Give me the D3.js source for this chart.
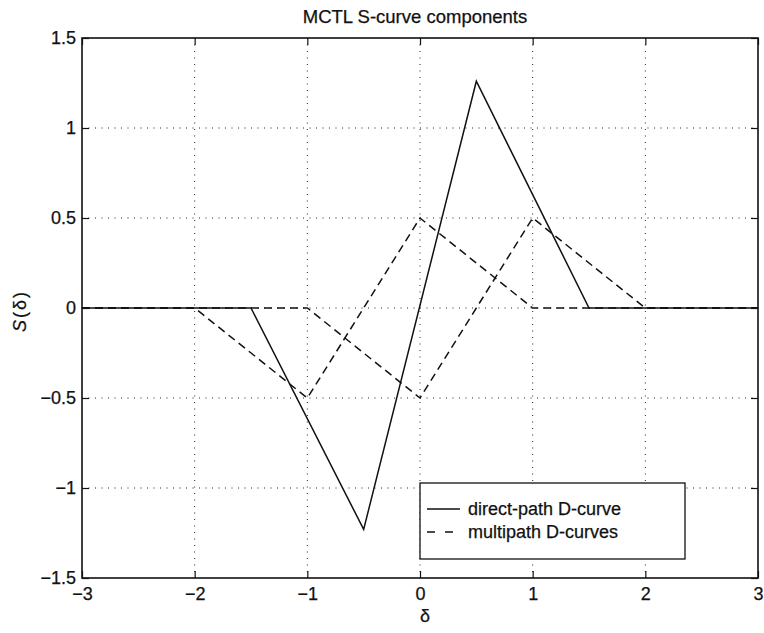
<!DOCTYPE html>
<html>
<head>
<meta charset="utf-8">
<script src="https://cdn.jsdelivr.net/npm/d3@7"></script>
<style>
  html, body { margin: 0; padding: 0; background: #fff; }
  svg { display: block; font-family: "Liberation Sans", Arial, Helvetica, sans-serif; }
  text { stroke: #111; stroke-width: 0.25px; }
</style>
</head>
<body>
<svg id="chart" width="764" height="633"></svg>
<script>
// Delay axis (chips) and its tick values
const delta = [-3, -1.5, -0.5, 0.5, 1.5, 3];
const directPath = [0, 0, -1.23, 1.26, 0, 0];

const multiDelta = [-3, -2, -1, 0, 1, 3];
const multipathA = [0, 0, -0.5, 0.5, 0, 0];
const multiDeltaB = [-3, -1, 0, 1, 2, 3];
const multipathB = [0, 0, -0.5, 0.5, 0, 0];

const xTicks = [-3, -2, -1, 0, 1, 2, 3];
const yTicks = [-1.5, -1, -0.5, 0, 0.5, 1, 1.5];
const legendLabels = ["direct-path D-curve", "multipath D-curves"];

const svg = d3.select("#chart");
const plotL = 82, plotR = 758, plotT = 38, plotB = 578;

const x = d3.scaleLinear().domain([-3, 3]).range([plotL, plotR]);
const y = d3.scaleLinear().domain([-1.5, 1.5]).range([plotB, plotT]);

// dotted grid at interior ticks
const grid = svg.append("g").attr("stroke", "#222").attr("stroke-width", 1)
  .attr("stroke-dasharray", "1,5.5");
grid.selectAll("line.vx").data(xTicks.slice(1, -1)).join("line")
  .attr("x1", d => x(d)).attr("x2", d => x(d))
  .attr("y1", plotT).attr("y2", plotB);
grid.selectAll("line.hy").data(yTicks.slice(1, -1)).join("line")
  .attr("x1", plotL).attr("x2", plotR)
  .attr("y1", d => y(d)).attr("y2", d => y(d));

const line = d3.line().x(d => x(d[0])).y(d => y(d[1]));

// direct-path curve
svg.append("path")
  .datum(d3.zip(delta, directPath))
  .attr("d", line)
  .attr("fill", "none").attr("stroke", "#111").attr("stroke-width", 1.5);

// multipath curves
[[multiDelta, multipathA], [multiDeltaB, multipathB]].forEach(([xs, ys]) => {
  svg.append("path")
    .datum(d3.zip(xs, ys))
    .attr("d", line)
    .attr("fill", "none").attr("stroke", "#111").attr("stroke-width", 1.5)
    .attr("stroke-dasharray", "8,5");
});

// axes with inward ticks on every side
const fmt = d3.format("");
const axFont = 18;
const gB = svg.append("g").attr("transform", `translate(0,${plotB})`)
  .call(d3.axisBottom(x).tickValues(xTicks).tickFormat(fmt).tickSizeInner(-7).tickSizeOuter(0).tickPadding(9));
const gL = svg.append("g").attr("transform", `translate(${plotL},0)`)
  .call(d3.axisLeft(y).tickValues(yTicks).tickFormat(fmt).tickSizeInner(-7).tickSizeOuter(0).tickPadding(6));
const gT = svg.append("g").attr("transform", `translate(0,${plotT})`)
  .call(d3.axisTop(x).tickValues(xTicks).tickFormat("").tickSizeInner(-7).tickSizeOuter(0));
const gR = svg.append("g").attr("transform", `translate(${plotR},0)`)
  .call(d3.axisRight(y).tickValues(yTicks).tickFormat("").tickSizeInner(-7).tickSizeOuter(0));

[gB, gL, gT, gR].forEach(g => {
  g.select(".domain").remove();
  g.selectAll(".tick line").attr("stroke", "#111").attr("stroke-width", 1.2);
  g.selectAll("text").attr("font-size", axFont).attr("fill", "#111")
    .attr("font-family", "'Liberation Sans', Arial, Helvetica, sans-serif");
});

// axes box
svg.append("rect")
  .attr("x", plotL).attr("y", plotT)
  .attr("width", plotR - plotL).attr("height", plotB - plotT)
  .attr("fill", "none").attr("stroke", "#111").attr("stroke-width", 1.6);

// title and axis labels
svg.append("text").attr("x", 415).attr("y", 23).attr("text-anchor", "middle")
  .attr("font-size", 18.5).attr("fill", "#111").text("MCTL S-curve components");
svg.append("text").attr("x", 425).attr("y", 622).attr("text-anchor", "middle")
  .attr("font-size", 18).attr("fill", "#111").text("δ");
const yl = svg.append("text").attr("transform", "translate(26,311) rotate(-90)")
  .attr("text-anchor", "middle").attr("font-size", 18).attr("fill", "#111")
  .attr("letter-spacing", 2);
yl.append("tspan").attr("font-style", "italic").text("S");
yl.append("tspan").text("(δ)");

// legend
const lg = svg.append("g");
lg.append("rect").attr("x", 420).attr("y", 483).attr("width", 265).attr("height", 76)
  .attr("fill", "#fff").attr("stroke", "#111").attr("stroke-width", 1.3);
const dashes = [null, "8,10"];
legendLabels.forEach((lab, i) => {
  const ly = 509 + i * 23;
  lg.append("line").attr("x1", 427).attr("x2", 460).attr("y1", ly).attr("y2", ly)
    .attr("stroke", "#111").attr("stroke-width", 1.5)
    .attr("stroke-dasharray", dashes[i]);
  lg.append("text").attr("x", 468).attr("y", ly + 6).attr("font-size", 18)
    .attr("fill", "#111").text(lab);
});
</script>
</body>
</html>
